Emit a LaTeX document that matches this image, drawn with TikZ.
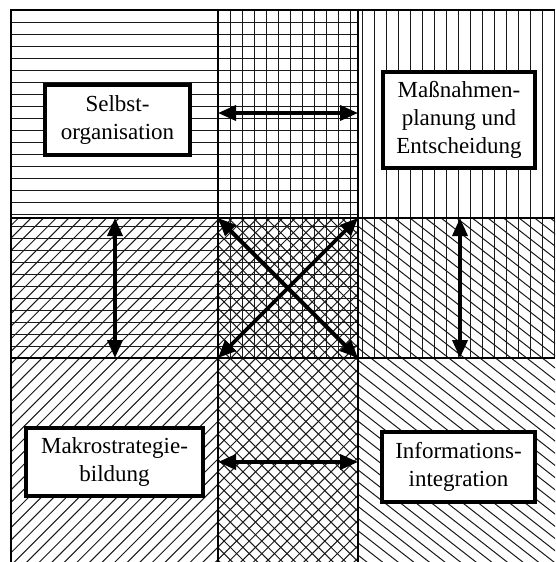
\documentclass[tikz,border=0pt]{standalone}
\usepackage{fontspec}
\setmainfont{Liberation Serif}
\usetikzlibrary{arrows.meta}
\newcommand\diaghatch[6]{%
  \begin{scope}
    \clip (#1,#2) rectangle (#3,#4);
    \foreach \k in {-50,...,50}
      \draw[hatch, rotate around={#5:(287,390)}] (-250,390+\k*#6) -- (850,390+\k*#6);
  \end{scope}}
\begin{document}
\begin{tikzpicture}[x=1pt,y=-1pt,
  hatch/.style={line width=1pt, black!90},
  frameline/.style={line width=1.3pt, black},
  label/.style={draw, line width=3.4pt, fill=white, inner sep=0pt, align=center,
                font=\fontsize{23}{28}\selectfont},
  link/.style={line width=3.6pt, {Triangle[length=18pt,width=15pt]}-{Triangle[length=18pt,width=15pt]}}]
\useasboundingbox (0,0) rectangle (555,562);
\fill[white] (0,0) rectangle (555,562);

% horizontal hatching (top-left family)
\foreach \k in {0,...,29}
  \draw[hatch] (11,10.5+12*\k) -- (358,10.5+12*\k);
% vertical hatching (top-right family)
\foreach \k in {0,...,28}
  \draw[hatch] (218.5+12*\k,10) -- (218.5+12*\k,358);
% rising diagonals (bottom-left family)
\diaghatch{11}{218}{358}{562}{45}{8.9}
% falling diagonals (bottom-right family)
\diaghatch{218}{218}{358}{562}{-45}{8.9}
\diaghatch{358}{218}{555}{562}{-38}{9.6}

% frame and cell borders
\draw[frameline] (11,562) -- (11,10) -- (555,10);
\draw[frameline] (218,10) -- (218,562);
\draw[frameline] (358,10) -- (358,562);
\draw[frameline] (11,218) -- (555,218);
\draw[frameline] (11,358) -- (555,358);

% labelled boxes
\node[label, minimum width=145pt, minimum height=70pt] (selbst) at (117.5,120) {Selbst-\\organisation};
\node[label, minimum width=152pt, minimum height=96pt] (massn) at (459,120) {Maßnahmen-\\planung und\\Entscheidung};
\node[label, minimum width=177pt, minimum height=68pt] (makro) at (114.5,462) {Makrostrategie-\\bildung};
\node[label, minimum width=153pt, minimum height=70pt] (info) at (458.5,467) {Informations-\\integration};

% arrow end points
\coordinate (tl) at (218,113);
\coordinate (tr) at (358,113);
\coordinate (bl) at (218,462);
\coordinate (br) at (358,462);
\coordinate (lu) at (115,218);
\coordinate (ld) at (115,358);
\coordinate (ru) at (460,218);
\coordinate (rd) at (460,358);
\coordinate (c1) at (218,218);
\coordinate (c2) at (358,218);
\coordinate (c3) at (218,358);
\coordinate (c4) at (358,358);

\draw[link] (tl) -- (tr);
\draw[link] (bl) -- (br);
\draw[link] (lu) -- (ld);
\draw[link] (ru) -- (rd);
\draw[link] (c1) -- (c4);
\draw[link] (c2) -- (c3);
\end{tikzpicture}
\end{document}
